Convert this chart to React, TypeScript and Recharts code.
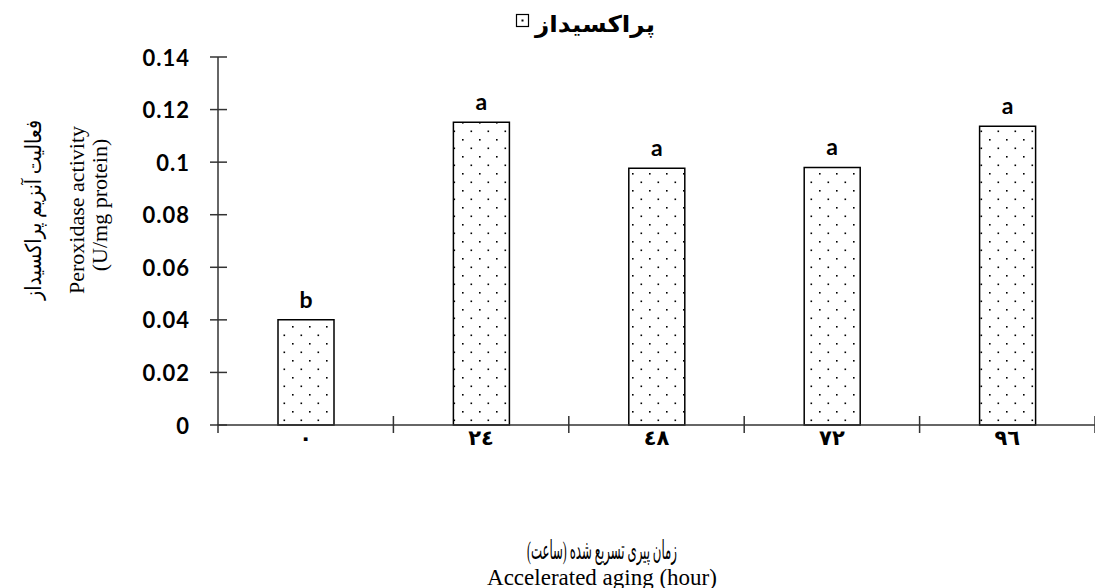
import React from 'react';
import { BarChart, Bar, XAxis, YAxis, LabelList } from 'recharts';

// aging time (hours), Arabic-Indic digits as in the figure
const categories = ['٠', '٢٤', '٤٨', '٧٢', '٩٦'];
const activity = [0.04, 0.1152, 0.0977, 0.0980, 0.1137];
const groups = ['b', 'a', 'a', 'a', 'a'];
const yTicks = [0, 0.02, 0.04, 0.06, 0.08, 0.1, 0.12, 0.14];

const W = 1095;
const H = 588;
const Y_AXIS_W = 218;
const X_AXIS_H = 163;
const TOP = 57;
const BAND = (W - Y_AXIS_W) / categories.length;

const data = categories.map((name, i) => ({ name, value: activity[i], group: groups[i] }));

const tickFont = 'Lato, "Open Sans", "DejaVu Sans", sans-serif';
const serif = '"Liberation Serif", "DejaVu Sans", serif';

const YTick = (props: any) => {
  const { x, y, payload } = props;
  return (
    <g>
      <line x1={x - 8} x2={x + 9} y1={y} y2={y} stroke="#333" strokeWidth={1.5} />
      <text x={x - 28} y={y} textAnchor="end" dominantBaseline="central"
        fontFamily={tickFont} fontWeight="bold" fontSize={22} letterSpacing={1} fill="#000">
        {payload.value}
      </text>
    </g>
  );
};

const XTick = (props: any) => {
  const { x, y, payload, index } = props;
  return (
    <g>
      {index === 0 && (
        <line x1={x - BAND / 2} x2={x - BAND / 2} y1={y - 1} y2={y + 8} stroke="#333" strokeWidth={1.5} />
      )}
      <line x1={x + BAND / 2} x2={x + BAND / 2} y1={y - 9} y2={y + 8} stroke="#333" strokeWidth={1.5} />
      <text x={x} y={y + 13} textAnchor="middle" dominantBaseline="central"
        fontFamily='"DejaVu Sans", sans-serif' fontWeight="bold" fontSize={21} fill="#000">
        {payload.value}
      </text>
    </g>
  );
};

export default function App() {
  return (
    <div style={{ position: 'relative', width: W, height: H, background: '#fff' }}>
      <style>{'body{margin:0}'}</style>
      <BarChart width={W} height={H} data={data} margin={{ top: TOP, right: 0, bottom: 0, left: 0 }}>
        <defs>
          <pattern id="dots" width={17} height={17} patternUnits="userSpaceOnUse">
            <rect width={17} height={17} fill="#fff" />
            <rect x={3} y={3} width={1.6} height={1.6} fill="#000" />
            <rect x={11.5} y={11.5} width={1.6} height={1.6} fill="#000" />
          </pattern>
        </defs>
        <XAxis dataKey="name" height={X_AXIS_H} tickLine={false} tickSize={0} tickMargin={0}
          axisLine={{ stroke: '#333', strokeWidth: 1.5 }} tick={<XTick />} interval={0} />
        <YAxis width={Y_AXIS_W} domain={[0, 0.14]} ticks={yTicks} tickLine={false} tickSize={0}
          tickMargin={0} axisLine={{ stroke: '#333', strokeWidth: 1.5 }} tick={<YTick />} />
        <Bar dataKey="value" barSize={56} fill="url(#dots)" stroke="#000" strokeWidth={1.5}
          isAnimationActive={false}>
          <LabelList dataKey="group" position="top" offset={12}
            style={{ fontFamily: tickFont, fontWeight: 'bold', fontSize: 23, fill: '#000' }} />
        </Bar>
      </BarChart>
      <svg width={W} height={H} style={{ position: 'absolute', left: 0, top: 0, pointerEvents: 'none' }}>
        <rect x={516.5} y={14.5} width={12} height={12} fill="none" stroke="#000" strokeWidth={1.2} />
        <rect x={521.5} y={19.5} width={2} height={2} fill="#000" />
        <text x={595} y={24} textAnchor="middle" dominantBaseline="central"
          fontFamily='"DejaVu Sans", sans-serif' fontWeight="bold" fontSize={23}
          textLength={120} lengthAdjust="spacingAndGlyphs" fill="#000">
          پراکسیداز
        </text>
        <g fontFamily={serif} fontSize={22} fill="#000" textAnchor="middle" dominantBaseline="central">
          <text x={33} y={210} transform="rotate(-90 33 210)" textLength={180}
            lengthAdjust="spacingAndGlyphs">فعالیت آنزیم پراکسیداز</text>
          <text x={76} y={210} transform="rotate(-90 76 210)">Peroxidase activity</text>
          <text x={99} y={205} transform="rotate(-90 99 205)">(U/mg protein)</text>
        </g>
        <g fontFamily={serif} fill="#000" textAnchor="middle" dominantBaseline="central">
          <text x={602} y={550} fontSize={26} textLength={150} lengthAdjust="spacingAndGlyphs">
            زمان پیری تسریع شده (ساعت)
          </text>
          <text x={602} y={577} fontSize={23}>Accelerated aging (hour)</text>
        </g>
      </svg>
    </div>
  );
}
